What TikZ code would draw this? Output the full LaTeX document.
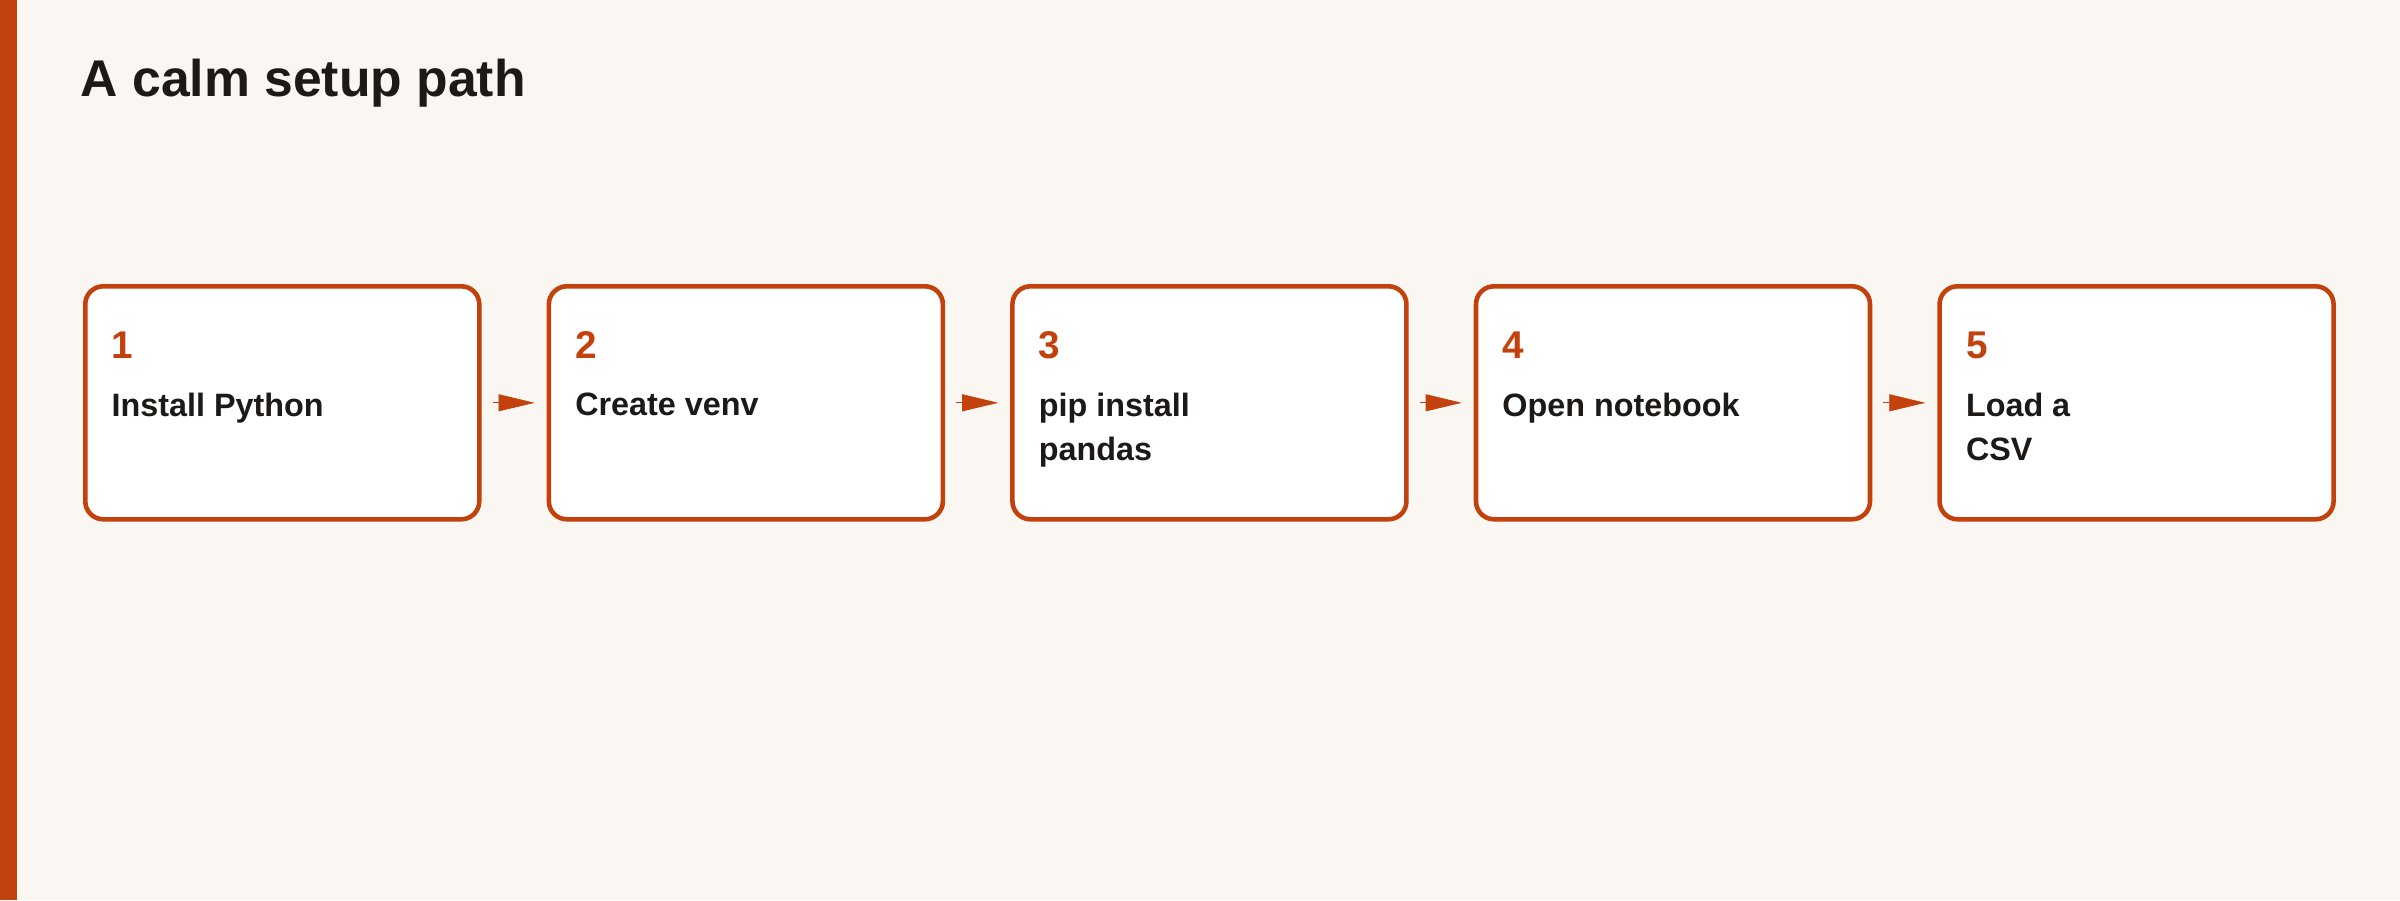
\documentclass[tikz,border=0pt]{standalone}
\usepackage{fontspec}
\setmainfont{Liberation Sans}
\usetikzlibrary{positioning,calc,arrows.meta}
\definecolor{rust}{HTML}{C2410C}
\definecolor{paper}{HTML}{FAF7F2}
\definecolor{ink}{HTML}{1C1917}
\tikzset{
	stepbox/.style={draw=rust, line width=1.3pt, fill=white, rounded corners=0.18cm,
		minimum width=3.94cm, minimum height=2.33cm, inner sep=0pt},
	num/.style={anchor=base west, inner sep=0pt, text=rust, font=\bfseries\fontsize{11}{13}\selectfont},
	lbl/.style={anchor=north west, inner sep=0pt, text=ink, align=left,
		font=\bfseries\fontsize{9.2}{12.5}\selectfont},
	flow/.style={draw=rust, line width=0.2pt, -{Triangle[length=0.36cm,width=0.17cm]},
		shorten <=0.11cm, shorten >=0.12cm}
}
\begin{document}
\begin{tikzpicture}
		%%%%% BACKGROUND %%%%%
		\fill[paper] (0,0) rectangle (24,-9);
		\useasboundingbox (0,0) rectangle (24,-9);
		\fill[rust] (0,0) rectangle (0.17,-9);
		
		\node[anchor=west, inner sep=0pt, text=ink, font=\bfseries\fontsize{14.7}{17}\selectfont] (title) at (0.8,-0.83) {A calm setup path};
		
		%%%%% STEPS %%%%%
		\node[stepbox, anchor=north west] (s1) at (0.83,-2.84) {};
		\node[stepbox, right=0.65cm of s1] (s2) {};
		\node[stepbox, right=0.65cm of s2] (s3) {};
		\node[stepbox, right=0.65cm of s3] (s4) {};
		\node[stepbox, right=0.65cm of s4] (s5) {};
		
		\foreach \i/\txt in {1/Install Python, 2/Create venv, 3/{pip install\\pandas}, 4/Open notebook, 5/{Load a\\CSV}} {
			\node[num] (n\i) at ($(s\i.north west)+(0.28,-0.74)$) {\i};
			\node[lbl] (t\i) at ($(s\i.north west)+(0.28,-1.08)$) {\txt};
		}
		
		\foreach \a/\b in {1/2, 2/3, 3/4, 4/5}
			\draw[flow] (s\a.east) -- (s\b.west);
\end{tikzpicture}
\end{document}
